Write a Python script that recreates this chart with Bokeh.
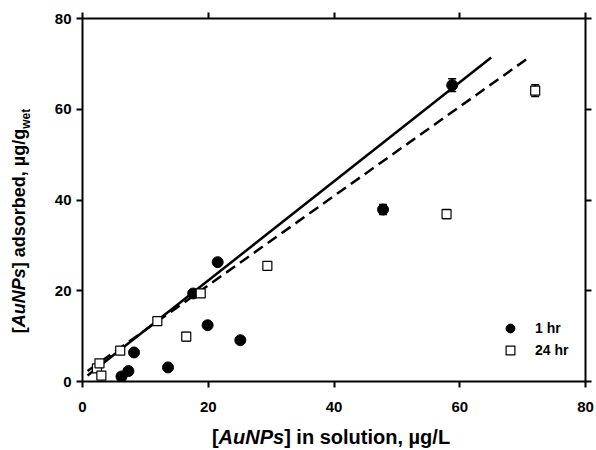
from bokeh.plotting import figure
from bokeh.models import (ColumnDataSource, Whisker, TeeHead, LinearAxis, Div,
                          Range1d, Legend, LegendItem, FixedTicker)
from bokeh.layouts import row, column
from bokeh.embed import file_html
from bokeh.resources import INLINE

# ---------------- data ----------------
hr1_x = [6.2, 7.3, 8.2, 13.6, 17.6, 19.9, 21.5, 25.1, 47.8, 58.8]
hr1_y = [1.1, 2.3, 6.4, 3.1, 19.4, 12.4, 26.3, 9.1, 37.9, 65.3]
hr1_err = [0.3, 0.3, 0.3, 0.3, 0.3, 0.4, 0.5, 0.3, 1.1, 1.4]

hr24_x = [2.3, 2.7, 3.0, 6.0, 11.9, 16.5, 18.8, 29.4, 57.9, 72.0]
hr24_y = [2.9, 4.0, 1.3, 6.8, 13.3, 9.9, 19.4, 25.5, 36.9, 64.1]
hr24_err = [0.3, 0.3, 0.3, 0.3, 0.4, 0.9, 0.4, 0.5, 1.0, 1.3]

fit1_x = [0.8, 65.0]
fit1_y = [1.3, 71.4]
fit24_x = [0.8, 71.0]
fit24_y = [2.3, 71.4]

axis_ticks = [0, 20, 40, 60, 80]
series_labels = ["1 hr", "24 hr"]
x_title_html = "[<i>AuNPs</i>] in solution, µg/L"
y_title_html = "[<i>AuNPs</i>] adsorbed, µg/g<sub style='font-size:12px;vertical-align:-5px;'>wet</sub>"

# ---------------- layout constants ----------------
FONT = "Liberation Sans"
YLAB_W = 40
L, R, T, B = 82, 11, 18, 40
FW, FH = 503, 363
TOTAL_W, TOTAL_H = 596, 450
XMIN, XMAX, YMIN, YMAX = 0, 80, 0, 80
P_H = T + FH + B

p = figure(frame_width=FW, frame_height=FH,
           x_range=Range1d(XMIN, XMAX), y_range=Range1d(YMIN, YMAX),
           output_backend="svg", toolbar_location=None,
           min_border_left=L - YLAB_W, min_border_right=R,
           min_border_top=T, min_border_bottom=B)
p.outline_line_color = None
p.xgrid.visible = False
p.ygrid.visible = False
p.background_fill_color = "white"
p.border_fill_color = "white"

p.add_layout(LinearAxis(), "right")
p.add_layout(LinearAxis(), "above")


def style_axis(ax, show_labels):
    ax.ticker = FixedTicker(ticks=axis_ticks)
    ax.axis_line_width = 2
    ax.axis_line_color = "black"
    ax.major_tick_line_width = 2
    ax.major_tick_line_color = "black"
    ax.major_tick_out = 6
    ax.major_tick_in = 0
    ax.minor_tick_line_color = None
    ax.major_label_text_font = FONT
    ax.major_label_text_font_style = "bold"
    ax.major_label_text_color = "black"
    ax.major_label_text_font_size = "15px"
    if not show_labels:
        ax.major_label_overrides = {t: "" for t in axis_ticks}
        ax.major_label_standoff = 0


for ax in p.left:
    style_axis(ax, True)
    ax.major_label_standoff = 5
for ax in p.below:
    style_axis(ax, True)
    ax.major_label_standoff = 14
for ax in p.right + p.above:
    style_axis(ax, False)

# ---------------- fit lines ----------------
p.line(fit1_x, fit1_y, line_color="black", line_width=2.5)
p.line(fit24_x, fit24_y, line_color="black", line_width=2.5, line_dash="11 6")

# ---------------- error bars ----------------
src1 = ColumnDataSource(dict(x=hr1_x, y=hr1_y,
                             lo=[a - e for a, e in zip(hr1_y, hr1_err)],
                             hi=[a + e for a, e in zip(hr1_y, hr1_err)]))
src24 = ColumnDataSource(dict(x=hr24_x, y=hr24_y,
                              lo=[a - e for a, e in zip(hr24_y, hr24_err)],
                              hi=[a + e for a, e in zip(hr24_y, hr24_err)]))
for s in (src1, src24):
    p.add_layout(Whisker(source=s, base="x", lower="lo", upper="hi",
                         dimension="height", line_color="black", line_width=1.5,
                         upper_head=TeeHead(size=8, line_width=1.5),
                         lower_head=TeeHead(size=8, line_width=1.5)))

r1 = p.scatter("x", "y", source=src1, marker="circle", size=11,
               fill_color="black", line_color="black")
r24 = p.scatter("x", "y", source=src24, marker="square", size=9,
                fill_color="white", line_color="black", line_width=1.2)

legend = Legend(items=[LegendItem(label=series_labels[0], renderers=[r1]),
                       LegendItem(label=series_labels[1], renderers=[r24])],
                location=(417, 20), orientation="vertical",
                glyph_width=22, glyph_height=22, label_height=17,
                label_standoff=14, spacing=-5, padding=0, margin=0,
                border_line_color=None, background_fill_alpha=0,
                label_text_font=FONT, label_text_font_style="bold",
                label_text_font_size="14px", label_text_color="black")
p.add_layout(legend)

# ---------------- axis titles (HTML, for italic and subscript) ----------------
Y_CX, Y_CY = 22, 221   # centre of y title on the page
X_CX, X_CY = 331, 437  # centre of x title on the page

ylab = Div(
    text=(f"<div style=\"width:{YLAB_W}px;height:{P_H}px;display:flex;"
          f"align-items:center;justify-content:center;overflow:visible;\">"
          f"<span style=\"flex-shrink:0;white-space:nowrap;"
          f"font-family:'{FONT}';font-weight:bold;font-size:18px;color:black;"
          f"line-height:18px;"
          f"transform:translate({Y_CX - YLAB_W / 2}px,{Y_CY - P_H / 2}px) rotate(-90deg);\">"
          f"{y_title_html}</span></div>"),
    width=YLAB_W, height=P_H, margin=0)

xlab_h = TOTAL_H - P_H
xlab = Div(
    text=(f"<div style=\"width:{TOTAL_W}px;height:{xlab_h}px;box-sizing:border-box;"
          f"padding-left:{2 * X_CX - TOTAL_W}px;text-align:center;white-space:nowrap;"
          f"font-family:'{FONT}';font-weight:bold;font-size:20px;color:black;"
          f"line-height:{2 * (X_CY - P_H)}px;\">{x_title_html}</div>"),
    width=TOTAL_W, height=xlab_h, margin=0)

layout = column(row(ylab, p, spacing=0), xlab, spacing=0)

open("out.html", "w").write(file_html(layout, INLINE))
